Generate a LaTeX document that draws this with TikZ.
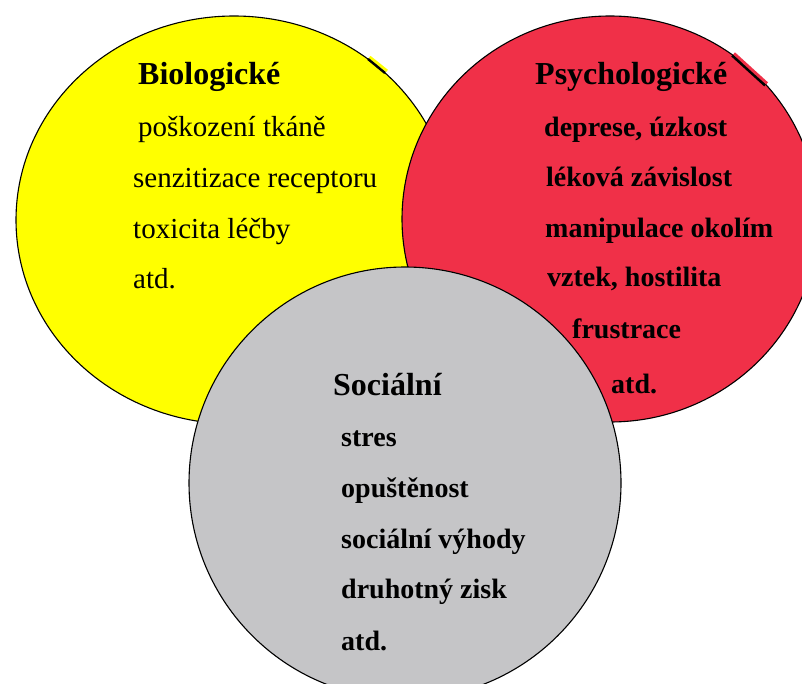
\documentclass[tikz,border=0pt]{standalone}
\usepackage{fontspec}
\setmainfont{Liberation Serif}
\definecolor{bio_yellow}{RGB}{255, 255, 0}
\definecolor{psy_red}{RGB}{240, 48, 72}
\definecolor{soc_gray}{RGB}{197, 197, 199}
\tikzstyle{ring}=[draw=black,line width=1.1pt]
\tikzstyle{heading}=[anchor=base west,inner sep=0pt,
  font=\fontsize{32}{34}\selectfont\bfseries]
\tikzstyle{entry}=[anchor=base west,inner sep=0pt,
  font=\fontsize{28}{30}\selectfont\bfseries]
\tikzstyle{entryreg}=[anchor=base west,inner sep=0pt,
  font=\fontsize{29}{31}\selectfont]
\tikzstyle{none}=[]

\begin{document}
\begin{tikzpicture}[x=1pt, y=-1pt]
            \useasboundingbox (0, 0) rectangle (802, 684);
            \clip (0, 0) rectangle (802, 684);
            \fill [white] (0, 0) rectangle (802, 684);
            \coordinate (0) at (234, 220);
            \coordinate (1) at (610, 219);
            \coordinate (2) at (405, 483);
            \filldraw [style=ring, fill=bio_yellow] (0) ellipse [x radius=218pt, y radius=204pt];
            \draw [bio_yellow, line width=3pt] (369.5, 57) -- (387, 71);
            \draw [line width=2.4pt] (368, 59) -- (385, 73);
            \filldraw [style=ring, fill=psy_red] (1) ellipse [x radius=208pt, y radius=203pt];
            \draw [psy_red, line width=3pt] (734, 53.5) -- (767, 83.5);
            \draw [line width=2.4pt] (732, 55.5) -- (765, 85.5);
            \filldraw [style=ring, fill=soc_gray] (2) circle [radius=216pt];
            \node [style=heading] (3) at (138, 85) {Biologické};
            \node [style=entryreg] (4) at (138, 137) {poškození tkáně};
            \node [style=entryreg] (5) at (133, 188) {senzitizace receptoru};
            \node [style=entryreg] (6) at (133, 239) {toxicita léčby};
            \node [style=entryreg] (7) at (133, 288) {atd.};
            \node [style=heading] (8) at (535, 85) {Psychologické};
            \node [style=entry] (9) at (544, 137) {deprese, úzkost};
            \node [style=entry] (10) at (546, 187) {léková závislost};
            \node [style=entry] (11) at (545, 238) {manipulace okolím};
            \node [style=entry] (12) at (547, 287) {vztek, hostilita};
            \node [style=entry] (13) at (572, 338) {frustrace};
            \node [style=entry] (14) at (611, 393) {atd.};
            \node [style=heading] (15) at (333, 395) {Sociální};
            \node [style=entry] (16) at (341, 446) {stres};
            \node [style=entry] (17) at (341, 497) {opuštěnost};
            \node [style=entry] (18) at (341, 548) {sociální výhody};
            \node [style=entry] (19) at (341, 598) {druhotný zisk};
            \node [style=entry] (20) at (341, 650) {atd.};
    \end{tikzpicture}
\end{document}
